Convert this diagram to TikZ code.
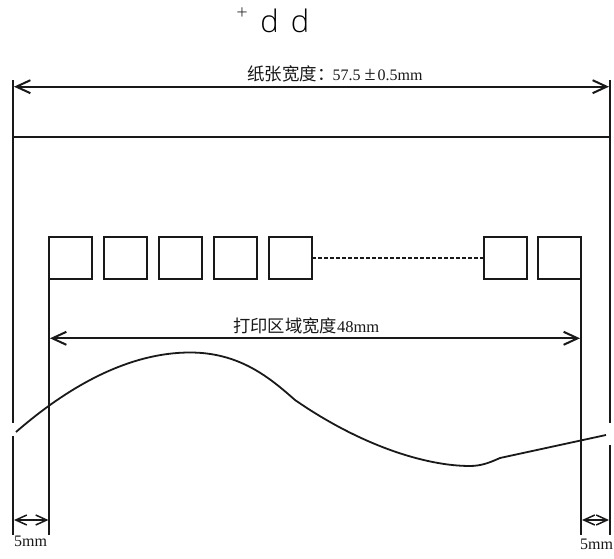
\documentclass[tikz,border=0pt]{standalone}
\usepackage{fontspec}
\setmainfont{Liberation Serif}
\newfontfamily\cjk{Noto Sans CJK SC}
\newfontfamily\topfont{Open Sans Light}
\usetikzlibrary{arrows.meta}
\tikzset{
  pline/.style={line width=2pt,black!90},
  dim/.style={line width=2pt,black!90,{Straight Barb[length=14pt,width=13pt,line width=2pt]}-{Straight Barb[length=14pt,width=13pt,line width=2pt]}},
  smalldim/.style={line width=1.5pt,black!90,{Straight Barb[length=11pt,width=10pt,line width=1.5pt]}-{Straight Barb[length=11pt,width=10pt,line width=1.5pt]}},
  dot/.style={draw=black!90,line width=2pt,outer sep=0pt,minimum width=43pt,minimum height=42pt,inner sep=0pt,anchor=north west},
  lbl/.style={inner sep=0pt,text=black!90}
}
\begin{document}
\begin{tikzpicture}[x=1pt,y=-1pt]
\useasboundingbox (0,0) rectangle (614,559);
\fill[white] (0,0) rectangle (614,559);
% heading
\node[lbl,font=\topfont\fontsize{20}{20}\selectfont] (plus) at (242,14) {+};
\node[lbl,font=\topfont\fontsize{31}{31}\selectfont,anchor=base,text=black] (d1) at (269.5,33) {d};
\node[lbl,font=\topfont\fontsize{31}{31}\selectfont,anchor=base,text=black] (d2) at (300,33) {d};
% paper edges
\coordinate (lt) at (13.3,80); \coordinate (lm1) at (13.3,423); \coordinate (lm2) at (13.3,436); \coordinate (lb) at (13.3,535);
\coordinate (rt) at (610,80); \coordinate (rm1) at (610,423); \coordinate (rm2) at (610,445); \coordinate (rb) at (610,535);
\draw[pline] (lt) -- (lm1) (lm2) -- (lb);
\draw[pline] (rt) -- (rm1) (rm2) -- (rb);
\coordinate (hl) at (13,136.7); \coordinate (hr) at (610,136.7);
\draw[pline] (hl) -- (hr);
% paper width
\coordinate (wl) at (14,86.7); \coordinate (wr) at (609,86.7);
\draw[dim] (wl) -- (wr);
\node[lbl,anchor=base west] (wlabel) at (247,81) {\cjk\fontsize{17.5}{17.5}\selectfont 纸张宽度：\fontsize{16}{16}\rmfamily\hspace{-2pt}57.5\hspace{4pt}{\fontsize{20}{20}\selectfont ±}\hspace{2pt}0.5mm};
% print dots
\node[dot] (b1) at (49.3,236.7) {};
\node[dot] (b2) at (104,236.7) {};
\node[dot] (b3) at (159,236.7) {};
\node[dot] (b4) at (214,236.7) {};
\node[dot] (b5) at (269,236.7) {};
\node[dot] (b6) at (484.3,236.7) {};
\node[dot] (b7) at (538.3,236.7) {};
\draw[line width=2pt,black!90,dash pattern=on 3.5pt off 2.5pt] (b5.east) -- (b6.west);
% print area edges
\coordinate (il) at (49.3,535); \coordinate (ir) at (581.3,535);
\draw[pline] (b1.north west) -- (il);
\draw[pline] (b7.north east) -- (ir);
% print width
\coordinate (pl) at (50,338.3); \coordinate (pr) at (580,338.3);
\draw[dim] (pl) -- (pr);
\node[lbl,anchor=base west] (plabel) at (233,332) {\cjk\fontsize{17.3}{17.3}\selectfont 打印区域宽度\fontsize{16.5}{16.5}\rmfamily 48mm};
% tear curve
\coordinate (c0) at (16,432); \coordinate (c1) at (190,352.5); \coordinate (c2) at (295,400);
\coordinate (c3) at (470,466); \coordinate (c4) at (500,458); \coordinate (c5) at (606,435);
\draw[line width=1.8pt,black!90] (c0) .. controls (70,385) and (130,352.5) .. (c1)
  .. controls (240,352.5) and (270,378) .. (c2)
  .. controls (360,445) and (425,466) .. (c3)
  .. controls (482,466) and (491,462) .. (c4) -- (c5);
% margins
\coordinate (ml1) at (14,520); \coordinate (ml2) at (48.5,520);
\coordinate (mr1) at (582,520); \coordinate (mr2) at (609,520);
\draw[smalldim] (ml1) -- (ml2);
\draw[smalldim] (mr1) -- (mr2);
\node[lbl,font=\fontsize{16}{16}\selectfont] (m1) at (30.5,541) {5mm};
\node[lbl,font=\fontsize{16}{16}\selectfont] (m2) at (596.5,544) {5mm};
\end{tikzpicture}
\end{document}
